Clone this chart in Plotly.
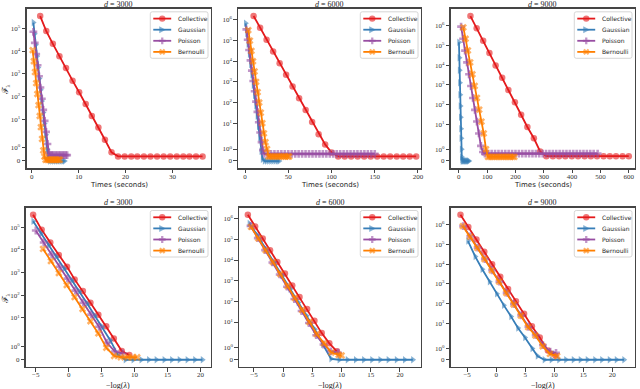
import numpy as np
import plotly.graph_objects as go

W, H = 640, 389

# ------------------------------------------------------------------
# Data
# ------------------------------------------------------------------
# ---- d = 3000 : F_lambda versus time (seconds)
time_col_3000 = [1.8, 3.1, 4.5, 5.9, 7.3, 8.7, 10.1, 11.5, 12.8, 14.2, 15.6, 17.0, 18.4,
                 19.8, 21.2, 22.5, 23.9, 25.3, 26.7, 28.1, 29.5, 30.9, 32.3, 33.6, 35.0, 36.4]
Ft_col_3000 = [3.5e5, 7.6e4, 2.1e4, 5.9e3, 1.8e3, 500, 155, 47, 14, 4.3, 1.64, 0.64, 0.32,
               0.32, 0.32, 0.32, 0.32, 0.32, 0.32, 0.32, 0.32, 0.32, 0.32, 0.32, 0.32, 0.32]
time_gau_3000 = [0.35, 0.6, 0.85, 1.1, 1.35, 1.6, 1.9, 2.15, 2.45, 2.7, 3.0, 3.3, 3.55,
                 3.85, 4.3, 4.7, 5.1, 5.5, 5.9, 6.3, 6.7, 7.0]
Ft_gau_3000 = [1.8e5, 5.8e4, 1.9e4, 6.0e3, 1.9e3, 620, 200, 64, 20, 6.5, 2.1, 0.9, 0.2,
               -0.05, -0.05, -0.05, -0.05, -0.05, -0.05, -0.05, -0.05, -0.05]
time_poi_3000 = [0.35, 0.65, 0.95, 1.25, 1.55, 1.85, 2.15, 2.45, 2.75, 3.05, 3.35, 3.65,
                 3.95, 4.25, 4.55, 4.85, 5.15, 5.45, 5.75, 6.05, 6.35, 6.65, 6.95, 7.25, 7.55]
Ft_poi_3000 = [7.1e4, 2.3e4, 7.4e3, 2.4e3, 780, 250, 80, 26, 8.5, 2.8, 1.3, 0.6,
               0.42, 0.42, 0.42, 0.42, 0.42, 0.42, 0.42, 0.42, 0.42, 0.42, 0.42, 0.42, 0.42]
time_ber_3000 = [0.2, 0.45, 0.7, 0.95, 1.2, 1.45, 1.7, 1.95, 2.2, 2.45, 2.7, 2.95,
                 3.3, 3.6, 3.9, 4.2, 4.5, 4.8, 5.1, 5.4, 5.7, 6.0]
Ft_ber_3000 = [1.1e4, 3.6e3, 1.2e3, 390, 130, 42, 14, 4.5, 1.7, 0.8, 0.3,
               0.05, 0.05, 0.05, 0.05, 0.05, 0.05, 0.05, 0.05, 0.05, 0.05, 0.05]

# ---- d = 3000 : F_lambda versus -log(lambda)
lam_col_3000 = [-5.4, -4.1, -2.8, -1.5, -0.25, 0.9, 2.15, 3.3, 4.5, 5.7, 6.85, 8.05, 9.2]
Fl_col_3000 = [3.5e5, 7.6e4, 2.1e4, 5.9e3, 1.8e3, 500, 155, 47, 14, 4.3, 1.64, 0.64, 0.32]
lam_gau_3000 = [-5.4, -4.2, -3.05, -1.9, -0.7, 0.45, 1.6, 2.8, 3.95, 5.1, 6.3, 7.45, 8.6,
                9.8, 11.0, 12.15, 13.3, 14.5, 15.65, 16.8, 18.0, 19.15, 20.3]
Fl_gau_3000 = [1.8e5, 5.2e4, 1.6e4, 5.1e3, 1.5e3, 460, 145, 43, 13, 4.1, 1.5, 0.35,
               -0.05, -0.05, -0.05, -0.05, -0.05, -0.05, -0.05, -0.05, -0.05, -0.05, -0.05]
lam_poi_3000 = [-5.0, -3.8, -2.6, -1.4, -0.2, 1.0, 2.2, 3.4, 4.6, 5.8, 7.0, 8.2]
Fl_poi_3000 = [7.1e4, 2.1e4, 6.2e3, 1.8e3, 540, 160, 47, 14, 4.1, 1.3, 0.6, 0.45]
lam_ber_3000 = [-3.9, -2.7, -1.5, -0.3, 0.9, 2.1, 3.3, 4.5, 5.7, 6.9, 7.9, 8.9, 9.7, 10.4]
Fl_ber_3000 = [1.1e4, 3.2e3, 950, 280, 83, 25, 7.2, 2.1, 0.9, 0.25, 0.15, 0.15, 0.15, 0.15]

# ---- d = 6000 : time
time_col_6000 = [9.9, 17.4, 24.9, 32.5, 40.0, 47.5, 55.0, 62.5, 70.1, 77.6, 85.1, 92.6, 100.1,
                 107.7, 115.2, 122.7, 130.2, 137.8, 145.3, 152.8, 160.3, 167.8, 175.4, 182.9,
                 190.4, 197.9]
Ft_col_6000 = [1.55e6, 4.2e5, 1.1e5, 3.0e4, 8.1e3, 2.2e3, 590, 160, 43, 11.5, 2.9, 1.4, 0.7,
               0.35, 0.35, 0.35, 0.35, 0.35, 0.35, 0.35, 0.35, 0.35, 0.35, 0.35, 0.35, 0.35]
time_gau_6000 = [0.7, 2.2, 3.7, 5.2, 6.7, 8.2, 9.7, 11.2, 12.7, 14.2, 15.7, 17.2, 18.7, 20.2,
                 22.5, 25.0, 27.5, 30.0, 32.5, 35.0, 37.5, 39.5]
Ft_gau_6000 = [6.9e5, 2.2e5, 6.9e4, 2.2e4, 6.9e3, 2.2e3, 690, 220, 69, 22, 6.9, 2.0, 0.8, 0.1,
               -0.05, -0.05, -0.05, -0.05, -0.05, -0.05, -0.05, -0.05]
time_poi_6000 = [1.5, 3.1, 4.7, 6.3, 7.9, 9.5, 11.1, 12.7, 14.3, 15.9, 17.5, 19.1, 20.7, 22.3,
                 26, 30, 34, 38, 42, 46, 50, 54, 58, 62, 66, 70, 74, 78, 82, 86,
                 90, 94, 98, 102, 106, 110, 114, 118, 122, 126, 130, 134, 138, 142, 146, 150]
Ft_poi_6000 = [3.5e5, 1.1e5, 3.5e4, 1.1e4, 3.5e3, 1.1e3, 350, 110, 35, 11, 3.5, 1.6, 0.9, 0.58,
               0.58, 0.58, 0.58, 0.58, 0.58, 0.58, 0.58, 0.58, 0.58, 0.58, 0.58, 0.58, 0.58,
               0.58, 0.58, 0.58, 0.58, 0.58, 0.58, 0.58, 0.58, 0.58, 0.58, 0.58, 0.58, 0.58,
               0.58, 0.58, 0.58, 0.58, 0.58, 0.58]
time_ber_6000 = [3.8, 5.6, 7.4, 9.2, 11.0, 12.8, 14.6, 16.4, 18.2, 20.0, 21.8, 23.6, 25.4, 27.2,
                 29.5, 32.0, 34.5, 37.0, 39.5, 42.0, 44.5, 47.0, 49.5, 51.0]
Ft_ber_6000 = [3.2e5, 1.0e5, 3.2e4, 1.0e4, 3.2e3, 1.0e3, 320, 100, 32, 10, 3.2, 1.6, 1.0, 0.35,
               0.35, 0.35, 0.35, 0.35, 0.35, 0.35, 0.35, 0.35, 0.35, 0.35]

# ---- d = 6000 : -log(lambda)
lam_col_6000 = [-6.05, -4.8, -3.5, -2.25, -1.0, 0.3, 1.55, 2.8, 4.1, 5.35, 6.6, 7.9, 9.2]
Fl_col_6000 = [1.55e6, 4.2e5, 1.1e5, 3.0e4, 8.1e3, 2.2e3, 590, 160, 43, 11.5, 2.9, 1.4, 0.7]
lam_gau_6000 = [-5.8, -4.4, -3.0, -1.6, -0.2, 1.2, 2.6, 4.0, 5.4, 6.8, 8.2, 9.6, 11.0, 12.4,
                13.8, 15.2, 16.6, 18.0, 19.4, 20.8, 22.2]
Fl_gau_6000 = [5.8e5, 1.6e5, 3.5e4, 7.9e3, 1.8e3, 400, 89, 20, 4.5, 1.3, 0.05,
               -0.03, -0.03, -0.03, -0.03, -0.03, -0.03, -0.03, -0.03, -0.03, -0.03]
lam_poi_6000 = [-5.6, -4.35, -3.1, -1.85, -0.6, 0.65, 1.9, 3.15, 4.4, 5.65, 6.9, 8.15, 9.4]
Fl_poi_6000 = [4.5e5, 1.15e5, 3.0e4, 7.6e3, 2.0e3, 510, 130, 34, 8.9, 2.3, 1.3, 0.7, 0.58]
lam_ber_6000 = [-5.5, -4.25, -3.0, -1.75, -0.5, 0.75, 2.0, 3.25, 4.5, 5.75, 7.0, 8.25, 9.5, 10.0]
Fl_ber_6000 = [4.0e5, 1.12e5, 3.0e4, 7.9e3, 2.1e3, 550, 145, 38, 10, 2.6, 1.4, 0.6, 0.4, 0.35]

# ---- d = 9000 : time
time_col_9000 = [41, 63, 86, 108, 130, 153, 175, 198, 220, 242, 265, 287, 309, 332, 354, 376,
                 399, 421, 444, 466, 488, 511, 533, 555, 578, 600]
Ft_col_9000 = [3.1e6, 7.4e5, 1.74e5, 4.2e4, 9.8e3, 2.3e3, 550, 132, 31, 7.4, 2.0, 0.8,
               0.36, 0.36, 0.36, 0.36, 0.36, 0.36, 0.36, 0.36, 0.36, 0.36, 0.36, 0.36, 0.36, 0.36]
time_gau_9000 = [0.5, 1.5, 2.5, 3.5, 4.5, 5.5, 6.5, 7.5, 8.5, 9.5, 10.5, 11.5, 12.5,
                 15, 18, 21, 24, 27, 30, 33, 36]
Ft_gau_9000 = [1.45e5, 2.4e4, 5.5e3, 1.3e3, 320, 85, 23, 6.0, 2.0, 1.0, 0.3, 0.05,
               -0.08, -0.08, -0.08, -0.08, -0.08, -0.08, -0.08, -0.08, -0.08]
time_poi_9000 = [8, 15, 22, 29, 36, 43, 50, 57, 64, 71, 78, 85, 92,
                 104, 116, 128, 140, 152, 164, 176, 188, 200, 212, 224, 236, 248, 260, 272,
                 284, 296, 308, 320, 332, 344, 356, 368, 380, 392, 404, 416, 428, 440, 452,
                 464, 476, 490]
Ft_poi_9000 = [9e5, 2.2e5, 5.5e4, 1.4e4, 3.5e3, 880, 220, 55, 14, 3.5, 1.3, 0.75, 0.6,
               0.6, 0.6, 0.6, 0.6, 0.6, 0.6, 0.6, 0.6, 0.6, 0.6, 0.6, 0.6, 0.6, 0.6, 0.6,
               0.6, 0.6, 0.6, 0.6, 0.6, 0.6, 0.6, 0.6, 0.6, 0.6, 0.6, 0.6, 0.6, 0.6, 0.6,
               0.6, 0.6, 0.6]
time_ber_9000 = [16, 24, 32, 40, 48, 56, 64, 72, 80, 88, 96, 103, 110, 118, 126, 134, 142,
                 150, 158, 166, 174, 182, 190, 196]
Ft_ber_9000 = [8.3e5, 2.2e5, 5.6e4, 1.4e4, 3.5e3, 890, 220, 56, 14, 3.5, 1.0, 0.3,
               0.3, 0.3, 0.3, 0.3, 0.3, 0.3, 0.3, 0.3, 0.3, 0.3, 0.3, 0.3]

# ---- d = 9000 : -log(lambda)
lam_col_9000 = [-6.15, -4.8, -3.4, -2.05, -0.7, 0.7, 2.05, 3.4, 4.8, 6.15, 7.5, 8.9, 10.2]
Fl_col_9000 = [3.1e6, 7.4e5, 1.74e5, 4.2e4, 9.8e3, 2.3e3, 550, 132, 31, 7.4, 2.0, 0.8, 0.36]
lam_gau_9000 = [-4.85, -3.6, -2.4, -1.15, 0.1, 1.3, 2.55, 3.75, 4.95, 6.2, 7.1, 8.3, 9.5,
                10.8, 12.0, 13.3, 14.5, 15.7, 17.0, 18.2, 19.5, 20.7, 22.0]
Fl_gau_9000 = [1.45e5, 2.4e4, 5.5e3, 1.3e3, 320, 85, 23, 6.0, 2.0, 1.0, 0.3,
               -0.03, -0.03, -0.03, -0.03, -0.03, -0.03, -0.03, -0.03, -0.03, -0.03,
               -0.03, -0.03]
lam_poi_9000 = [-5.7, -4.45, -3.2, -1.95, -0.7, 0.55, 1.8, 3.05, 4.3, 5.55, 6.8, 8.05, 9.3, 10.3]
Fl_poi_9000 = [8.3e5, 2.5e5, 6.8e4, 1.8e4, 4.9e3, 1.3e3, 355, 95, 26, 6.9, 2.6, 1.3, 0.7, 0.6]
lam_ber_9000 = [-5.75, -4.5, -3.25, -2.0, -0.75, 0.5, 1.75, 3.0, 4.25, 5.5, 6.75, 8.0, 9.25, 10.5]
Fl_ber_9000 = [8.3e5, 2.4e5, 6.6e4, 1.8e4, 4.8e3, 1.3e3, 350, 92, 25, 6.6, 2.5, 1.2, 0.5, 0.3]

# ------------------------------------------------------------------
METHODS = ["Collective", "Gaussian", "Poisson", "Bernoulli"]
COLORS = {"Collective": "#e41a1c", "Gaussian": "#377eb8",
          "Poisson": "#984ea3", "Bernoulli": "#ff7f00"}
SYMBOLS = {"Collective": "circle", "Gaussian": "triangle-right",
           "Poisson": "cross", "Bernoulli": "x"}

# symmetric-log y scale (as matplotlib's 'symlog')
LINTHRESH = 2.0
LINSCALE = 1.0
ADJ = LINSCALE / (1.0 - 1.0 / 10.0)


def symlog(v):
    v = np.asarray(v, dtype=float)
    a = np.abs(v)
    big = np.sign(v) * LINTHRESH * (ADJ + np.log10(np.maximum(a, 1e-300) / LINTHRESH))
    return np.where(a <= LINTHRESH, v * ADJ, big)


panels = [
    dict(d="3000", kind="time", xr=[-1.1, 38.2], dtick=10, ymax=5,
         px=(26.7, 212.0, 8.8, 168.3),
         series={"Collective": (time_col_3000, Ft_col_3000),
                 "Gaussian": (time_gau_3000, Ft_gau_3000),
                 "Poisson": (time_poi_3000, Ft_poi_3000),
                 "Bernoulli": (time_ber_3000, Ft_ber_3000)}),
    dict(d="6000", kind="time", xr=[-7.7, 203.5], dtick=50, ymax=6,
         px=(239.5, 423.0, 8.8, 168.3),
         series={"Collective": (time_col_6000, Ft_col_6000),
                 "Gaussian": (time_gau_6000, Ft_gau_6000),
                 "Poisson": (time_poi_6000, Ft_poi_6000),
                 "Bernoulli": (time_ber_6000, Ft_ber_6000)}),
    dict(d="9000", kind="time", xr=[-28, 622], dtick=100, ymax=6,
         px=(453.0, 638.0, 8.8, 168.3),
         series={"Collective": (time_col_9000, Ft_col_9000),
                 "Gaussian": (time_gau_9000, Ft_gau_9000),
                 "Poisson": (time_poi_9000, Ft_poi_9000),
                 "Bernoulli": (time_ber_9000, Ft_ber_9000)}),
    dict(d="3000", kind="lam", xr=[-6.5, 21.6], dtick=5, ymax=5,
         px=(26.0, 212.0, 207.5, 367.0),
         series={"Collective": (lam_col_3000, Fl_col_3000),
                 "Gaussian": (lam_gau_3000, Fl_gau_3000),
                 "Poisson": (lam_poi_3000, Fl_poi_3000),
                 "Bernoulli": (lam_ber_3000, Fl_ber_3000)}),
    dict(d="6000", kind="lam", xr=[-7.5, 23.6], dtick=5, ymax=6,
         px=(240.5, 423.0, 207.5, 367.0),
         series={"Collective": (lam_col_6000, Fl_col_6000),
                 "Gaussian": (lam_gau_6000, Fl_gau_6000),
                 "Poisson": (lam_poi_6000, Fl_poi_6000),
                 "Bernoulli": (lam_ber_6000, Fl_ber_6000)}),
    dict(d="9000", kind="lam", xr=[-7.8, 23.9], dtick=5, ymax=6,
         px=(453.0, 638.0, 207.5, 367.0),
         series={"Collective": (lam_col_9000, Fl_col_9000),
                 "Gaussian": (lam_gau_9000, Fl_gau_9000),
                 "Poisson": (lam_poi_9000, Fl_poi_9000),
                 "Bernoulli": (lam_ber_9000, Fl_ber_9000)}),
]


def fx(p):
    return p / W


def fy(p):
    return 1.0 - p / H


FRAME = "#454545"
TICKC = "#333333"
SERIF = "Liberation Serif"
SANS = "DejaVu Sans"

fig = go.Figure()
layout = dict(width=W, height=H, autosize=False,
              margin=dict(l=0, r=0, t=0, b=0),
              paper_bgcolor="white", plot_bgcolor="white",
              showlegend=False, hovermode=False)
shapes = []
annotations = []

for i, p in enumerate(panels):
    n = "" if i == 0 else str(i + 1)
    xa, ya = "x" + n, "y" + n
    L, R, T, B = p["px"]
    allt = []
    for m in METHODS:
        xs, fs = p["series"][m]
        ty = symlog(fs)
        allt.extend(ty.tolist())
        fig.add_trace(go.Scatter(
            x=xs, y=ty, mode="lines+markers", name=m, xaxis=xa, yaxis=ya,
            line=dict(color=COLORS[m], width=1.8),
            marker=dict(symbol=SYMBOLS[m], size=6.5, color=COLORS[m], opacity=0.6,
                        line=dict(width=0)),
            customdata=fs, showlegend=False))
    lo, hi = min(allt), max(allt)
    pad = 0.05 * (hi - lo)
    yvals = [0.0] + [10.0 ** k for k in range(0, p["ymax"] + 1)]
    ytext = ["0"] + ["10<sup>%d</sup>" % k for k in range(0, p["ymax"] + 1)]
    axis_common = dict(showline=True, mirror=True, linecolor=FRAME, linewidth=1.4,
                       ticks="outside", ticklen=3.5, tickwidth=1, tickcolor=FRAME,
                       showgrid=False, zeroline=False,
                       tickfont=dict(family=SERIF, size=7, color=TICKC))
    layout["xaxis" + n] = dict(axis_common, domain=[fx(L), fx(R)], range=p["xr"],
                               anchor=ya, dtick=p["dtick"], tick0=0,
                               ticklabelstandoff=-3)
    layout["yaxis" + n] = dict(axis_common, domain=[fy(B), fy(T)], range=[lo - pad, hi + pad],
                               anchor=xa, tickmode="array",
                               tickvals=symlog(yvals).tolist(), ticktext=ytext)

    cx = (L + R) / 2
    # title
    annotations.append(dict(text="<i>d</i> = " + p["d"], x=fx(cx), y=fy(T - 4.6),
                            xref="paper", yref="paper", showarrow=False,
                            xanchor="center", yanchor="middle",
                            font=dict(family=SERIF, size=8, color="#222")))
    # x label
    if p["kind"] == "time":
        annotations.append(dict(text="Times (seconds)", x=fx(cx), y=fy(B + 17.0),
                                xref="paper", yref="paper", showarrow=False,
                                xanchor="center", yanchor="middle",
                                font=dict(family=SANS, size=7, color="#222")))
    else:
        annotations.append(dict(text="\u2212log(<i>\u03bb</i>)", x=fx(cx), y=fy(B + 18.5),
                                xref="paper", yref="paper", showarrow=False,
                                xanchor="center", yanchor="middle",
                                font=dict(family=SERIF, size=8, color="#222")))
    # y label on the left column
    if i in (0, 3):
        ylab_y = 90.0 if i == 0 else 299.0
        annotations.append(dict(text="\u2131<sub>\u03bb</sub>", x=fx(5.5), y=fy(ylab_y),
                                xref="paper", yref="paper", showarrow=False, textangle=-90,
                                xanchor="center", yanchor="middle",
                                font=dict(family=SERIF, size=8.5, color="#222")))

    # legend (drawn in the upper right corner of each panel)
    bx0, bx1, by0, by1 = R - 61, R - 3, T + 3, T + 49.5
    r = 2.0
    rx, ry = r / W, r / H
    X0, X1, Y0, Y1 = fx(bx0), fx(bx1), fy(by0), fy(by1)
    path = ("M {a},{b} L {c},{b} Q {d},{b} {d},{e} L {d},{f} Q {d},{g} {c},{g} "
            "L {a},{g} Q {h},{g} {h},{f} L {h},{e} Q {h},{b} {a},{b} Z").format(
        a=X0 + rx, b=Y0, c=X1 - rx, d=X1, e=Y0 - ry, f=Y1 + ry, g=Y1, h=X0)
    shapes.append(dict(type="path", path=path, xref="paper", yref="paper",
                       fillcolor="rgba(255,255,255,0.85)",
                       line=dict(color="#cccccc", width=0.8), layer="above"))
    for k, m in enumerate(METHODS):
        yy = T + 9.8 + 11.1 * k
        c = COLORS[m]
        shapes.append(dict(type="line", xref="paper", yref="paper",
                           x0=fx(R - 58), x1=fx(R - 40), y0=fy(yy), y1=fy(yy),
                           line=dict(color=c, width=1.8), layer="above"))
        mx = R - 49
        if m == "Collective":
            shapes.append(dict(type="circle", xref="paper", yref="paper",
                               x0=fx(mx - 3.2), x1=fx(mx + 3.2),
                               y0=fy(yy + 3.2), y1=fy(yy - 3.2),
                               fillcolor=c, opacity=0.6, line=dict(width=0), layer="above"))
        else:
            if m == "Gaussian":
                pts = [(-3.0, -3.5), (3.6, 0.0), (-3.0, 3.5)]
            else:
                a_, b_ = 1.15, 3.4
                pts = [(-a_, -b_), (a_, -b_), (a_, -a_), (b_, -a_), (b_, a_), (a_, a_),
                       (a_, b_), (-a_, b_), (-a_, a_), (-b_, a_), (-b_, -a_), (-a_, -a_)]
                if m == "Bernoulli":
                    cs, sn = np.cos(np.pi / 4), np.sin(np.pi / 4)
                    pts = [(u * cs - v * sn, u * sn + v * cs) for u, v in pts]
            sp = "M " + " L ".join("{:.5f},{:.5f}".format(fx(mx + u), fy(yy + v))
                                   for u, v in pts) + " Z"
            shapes.append(dict(type="path", path=sp, xref="paper", yref="paper",
                               fillcolor=c, opacity=0.6, line=dict(width=0), layer="above"))
        annotations.append(dict(text=m, x=fx(R - 35.5), y=fy(yy), xref="paper", yref="paper",
                                showarrow=False, xanchor="left", yanchor="middle",
                                font=dict(family=SANS, size=6, color="#262626")))

layout["shapes"] = shapes
layout["annotations"] = annotations
fig.update_layout(**layout)
fig.write_html("out.html", config={"displayModeBar": False, "staticPlot": True},
               post_script="document.body.style.margin='0';document.body.style.padding='0';")
